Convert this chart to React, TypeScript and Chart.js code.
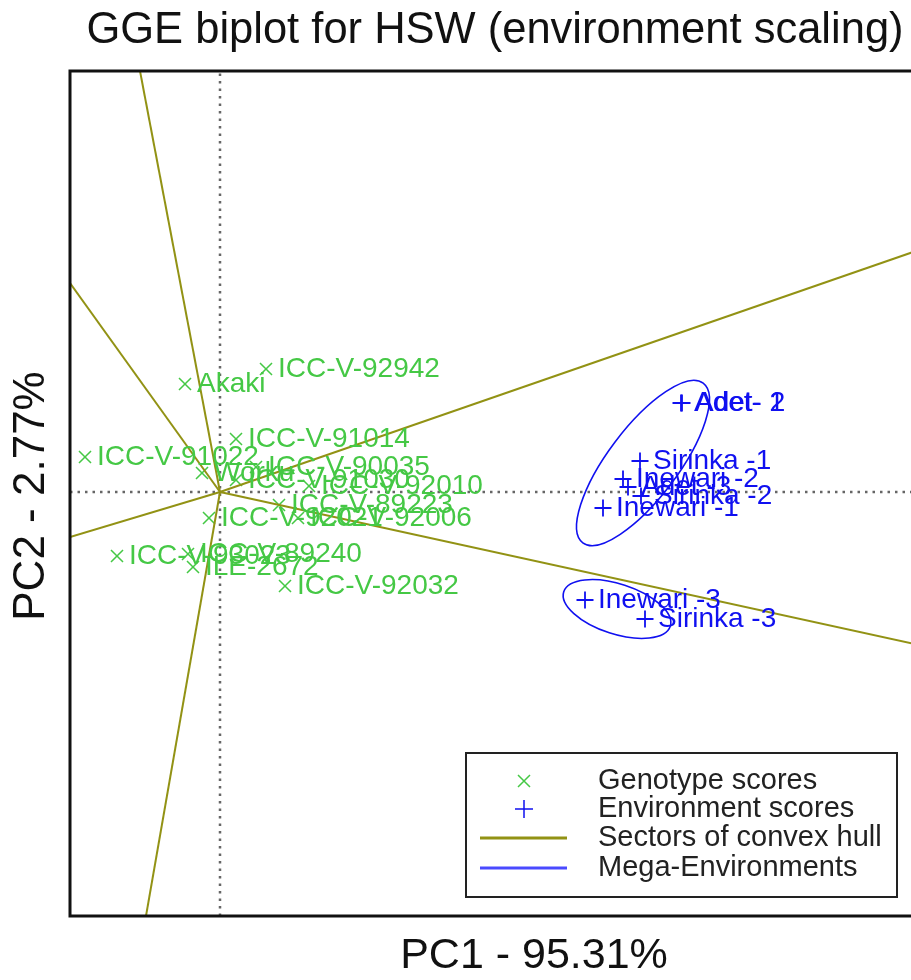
import React, { useEffect, useRef } from "react";
import { Chart, registerables } from "chart.js";

Chart.register(...registerables);

// ---------- data ----------
const titleText = "GGE biplot for HSW (environment scaling)";
const xAxisTitle = "PC1 - 95.31%";
const yAxisTitle = "PC2 - 2.77%";

const genotypeNames = [
  "Akaki",
  "ICC-V-92942",
  "ICC-V-91014",
  "ICC-V-91022",
  "Worku",
  "ICC-V-90035",
  "ICC-V-91030",
  "ICC-V-92010",
  "ICC-V-89223",
  "ICC-V-92006",
  "ICC-V-92021",
  "ICC-V-93023",
  "ICC-V-89240",
  "ILE-2672",
  "ICC-V-92032",
];
const genotypePC1 = [-0.35, 0.46, 0.16, -1.35, -0.18, 0.36, 0.16, 0.89, 0.59, 0.78, -0.11, -1.03, -0.32, -0.27, 0.65];
const genotypePC2 = [1.08, 1.23, 0.53, 0.35, 0.19, 0.25, 0.12, 0.06, -0.13, -0.26, -0.26, -0.64, -0.62, -0.75, -0.94];

const environmentNames = [
  "Adet- 1",
  "Adet- 2",
  "Sirinka -1",
  "Inewari -2",
  "Adet -3",
  "Sirinka -2",
  "Inewari -1",
  "Inewari -3",
  "Sirinka -3",
];
const environmentPC1 = [4.61, 4.62, 4.2, 4.03, 4.08, 4.21, 3.83, 3.65, 4.25];
const environmentPC2 = [0.89, 0.89, 0.31, 0.13, 0.05, -0.04, -0.16, -1.08, -1.27];

// sector rays of the convex hull (end points, all start at the origin)
const sectorEndPC1 = [-0.8, -1.5, -1.5, -0.74, 8.0, 8.0];
const sectorEndPC2 = [4.21, 2.09, -0.45, -4.24, 2.77, -1.75];

// mega-environment ellipses
const megaCenterPC1 = [4.23, 3.97];
const megaCenterPC2 = [0.29, -1.17];
const megaSemiMajor = [1.0, 0.56];
const megaSemiMinor = [0.35, 0.25];
const megaAngleDeg = [53, -18];

const legendLabels = [
  "Genotype scores",
  "Environment scores",
  "Sectors of convex hull",
  "Mega-Environments",
];

const xLimits = [-1.5, 7.78];
const yLimits = [-4.24, 4.21];

// ---------- styles ----------
const GREEN = "#45c845";
const BLUE = "#1010f0";
const OLIVE = "#929214";
const FONT = '"Liberation Sans", Arial, Helvetica, sans-serif';

const overlayPlugin = {
  id: "gge-overlay",
  beforeDatasetsDraw(chart: any) {
    const { ctx, chartArea } = chart;
    ctx.save();
    ctx.fillStyle = "#ffffff";
    ctx.fillRect(chartArea.left, chartArea.top, chartArea.right - chartArea.left, chartArea.bottom - chartArea.top);
    ctx.restore();
  },
  afterDatasetsDraw(chart: any) {
    const { ctx, chartArea, scales } = chart;
    const xs = scales.x;
    const ys = scales.y;

    // point labels
    ctx.save();
    ctx.beginPath();
    ctx.rect(chartArea.left, chartArea.top, chartArea.right - chartArea.left, chartArea.bottom - chartArea.top);
    ctx.clip();
    ctx.font = `28px ${FONT}`;
    ctx.textBaseline = "middle";
    ctx.textAlign = "left";
    const gMeta = chart.getDatasetMeta(chart.data.datasets.findIndex((d: any) => d.label === "Genotype scores"));
    gMeta.data.forEach((el: any, i: number) => {
      ctx.fillStyle = GREEN;
      ctx.fillText(genotypeNames[i], el.x + 12, el.y);
    });
    const eMeta = chart.getDatasetMeta(chart.data.datasets.findIndex((d: any) => d.label === "Environment scores"));
    eMeta.data.forEach((el: any, i: number) => {
      ctx.fillStyle = BLUE;
      ctx.fillText(environmentNames[i], el.x + 13, el.y);
    });

    // mega-environment ellipses
    ctx.strokeStyle = BLUE;
    ctx.lineWidth = 1.6;
    for (let k = 0; k < megaCenterPC1.length; k++) {
      const cx = xs.getPixelForValue(megaCenterPC1[k]);
      const cy = ys.getPixelForValue(megaCenterPC2[k]);
      const pxPerUnit = Math.abs(xs.getPixelForValue(1) - xs.getPixelForValue(0));
      ctx.beginPath();
      ctx.ellipse(cx, cy, megaSemiMajor[k] * pxPerUnit, megaSemiMinor[k] * pxPerUnit, (-megaAngleDeg[k] * Math.PI) / 180, 0, Math.PI * 2);
      ctx.stroke();
    }
    ctx.restore();
  },
  afterDraw(chart: any) {
    const { ctx, chartArea } = chart;
    ctx.save();
    // frame
    ctx.strokeStyle = "#111";
    ctx.lineWidth = 3;
    ctx.strokeRect(chartArea.left, chartArea.top, chartArea.right - chartArea.left, chartArea.bottom - chartArea.top);

    // titles
    ctx.fillStyle = "#111";
    ctx.textAlign = "center";
    ctx.textBaseline = "alphabetic";
    ctx.font = `43.5px ${FONT}`;
    ctx.fillText(titleText, chartArea.left + 425, 43);
    ctx.font = `43px ${FONT}`;
    ctx.fillText(xAxisTitle, chartArea.left + 464, chartArea.bottom + 52);
    ctx.save();
    ctx.font = `44px ${FONT}`;
    ctx.translate(44, chartArea.top + 425);
    ctx.rotate(-Math.PI / 2);
    ctx.fillText(yAxisTitle, 0, 0);
    ctx.restore();

    // legend
    const lx = chartArea.left + 396;
    const ly = chartArea.bottom - 163;
    const lw = 431;
    const lh = 144;
    ctx.fillStyle = "#fff";
    ctx.fillRect(lx, ly, lw, lh);
    ctx.strokeStyle = "#222";
    ctx.lineWidth = 2;
    ctx.strokeRect(lx, ly, lw, lh);
    const rowY = [ly + 28, ly + 56, ly + 85, ly + 115];
    const symX = lx + 58;
    // genotype marker
    ctx.strokeStyle = GREEN;
    ctx.lineWidth = 1.5;
    ctx.beginPath();
    ctx.moveTo(symX - 6, rowY[0] - 6);
    ctx.lineTo(symX + 6, rowY[0] + 6);
    ctx.moveTo(symX + 6, rowY[0] - 6);
    ctx.lineTo(symX - 6, rowY[0] + 6);
    ctx.stroke();
    // environment marker
    ctx.strokeStyle = BLUE;
    ctx.beginPath();
    ctx.moveTo(symX - 9, rowY[1]);
    ctx.lineTo(symX + 9, rowY[1]);
    ctx.moveTo(symX, rowY[1] - 9);
    ctx.lineTo(symX, rowY[1] + 9);
    ctx.stroke();
    // sector line
    ctx.lineWidth = 3;
    ctx.strokeStyle = OLIVE;
    ctx.beginPath();
    ctx.moveTo(lx + 14, rowY[2]);
    ctx.lineTo(lx + 101, rowY[2]);
    ctx.stroke();
    // mega-env line
    ctx.strokeStyle = "#4a4aff";
    ctx.beginPath();
    ctx.moveTo(lx + 14, rowY[3]);
    ctx.lineTo(lx + 101, rowY[3]);
    ctx.stroke();
    ctx.fillStyle = "#222";
    ctx.textAlign = "left";
    ctx.textBaseline = "middle";
    ctx.font = `29px ${FONT}`;
    legendLabels.forEach((t, i) => ctx.fillText(t, lx + 132, rowY[i]));
    ctx.restore();
  },
};

export default function App() {
  const canvasRef = useRef<HTMLCanvasElement | null>(null);

  useEffect(() => {
    if (!canvasRef.current) return;
    const sectorSets = sectorEndPC1.map((x, i) => ({
      type: "line" as const,
      label: `sector-${i}`,
      data: [
        { x: 0, y: 0 },
        { x, y: sectorEndPC2[i] },
      ],
      borderColor: OLIVE,
      borderWidth: 2,
      pointRadius: 0,
      showLine: true,
      order: 1,
    }));
    const chart = new Chart(canvasRef.current, {
      type: "scatter",
      data: {
        datasets: [
          {
            type: "line",
            label: "zero-x",
            data: [
              { x: xLimits[0], y: 0 },
              { x: xLimits[1], y: 0 },
            ],
            borderColor: "#666",
            borderWidth: 2.5,
            borderDash: [2.5, 5],
            pointRadius: 0,
            order: 5,
          },
          {
            type: "line",
            label: "zero-y",
            data: [
              { x: 0, y: yLimits[0] },
              { x: 0, y: yLimits[1] },
            ],
            borderColor: "#666",
            borderWidth: 2.5,
            borderDash: [2.5, 5],
            pointRadius: 0,
            order: 5,
          },
          {
            label: "Genotype scores",
            data: genotypePC1.map((x, i) => ({ x, y: genotypePC2[i] })),
            pointStyle: "crossRot",
            pointRadius: 8.5,
            borderColor: GREEN,
            backgroundColor: GREEN,
            pointBorderWidth: 1.5,
            order: 3,
          },
          {
            label: "Environment scores",
            data: environmentPC1.map((x, i) => ({ x, y: environmentPC2[i] })),
            pointStyle: "cross",
            pointRadius: 8.5,
            borderColor: BLUE,
            backgroundColor: BLUE,
            pointBorderWidth: 1.8,
            order: 3,
          },
          ...sectorSets,
        ] as any,
      },
      options: {
        responsive: false,
        animation: false,
        layout: { padding: { left: 70, top: 71, right: 12, bottom: 64 } },
        scales: {
          x: { type: "linear", min: xLimits[0], max: xLimits[1], display: false },
          y: { type: "linear", min: yLimits[0], max: yLimits[1], display: false },
        },
        plugins: {
          legend: { display: false },
          tooltip: { enabled: false },
          title: { display: false },
        },
      },
      plugins: [overlayPlugin],
    });
    return () => chart.destroy();
  }, []);

  return (
    <div
      style={{
        position: "fixed",
        left: 0,
        top: 0,
        width: 911,
        height: 980,
        overflow: "hidden",
        background: "#fff",
      }}
    >
      <canvas ref={canvasRef} width={1010} height={980} style={{ display: "block" }} />
    </div>
  );
}
